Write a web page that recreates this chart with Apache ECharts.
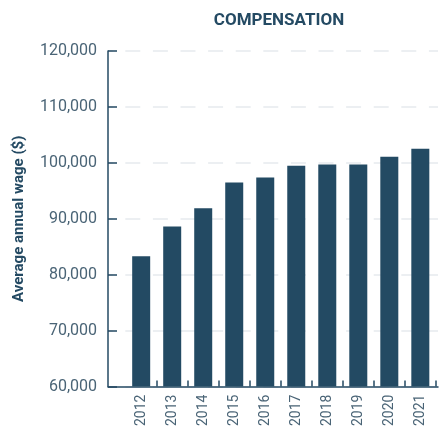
<!DOCTYPE html>
<html>
<head>
<meta charset="utf-8">
<script src="https://cdn.jsdelivr.net/npm/echarts@6/dist/echarts.min.js"></script>
<style>
  html, body { margin: 0; padding: 0; background: #ffffff; }
  #chart { width: 441px; height: 429px; }
</style>
</head>
<body>
<div id="chart"></div>
<script>
// Average annual wage by year
const years = ['2012', '2013', '2014', '2015', '2016', '2017', '2018', '2019', '2020', '2021'];
const wages = [83300, 88600, 91900, 96500, 97400, 99500, 99700, 99700, 101100, 102500];
const yTicks = [60000, 70000, 80000, 90000, 100000, 110000, 120000];

const ink = '#244a63';
const labelColor = '#4a6476';

// Bars sit on a numeric axis so the band positions and boundary ticks can be placed freely
const barData = wages.map((v, i) => [i, v]);
const bandEdges = years.map((_, i) => i + 0.5);
const bandCenters = years.map((_, i) => i);

const chart = echarts.init(document.getElementById('chart'), null, { renderer: 'canvas' });
chart.setOption({
  animation: false,
  backgroundColor: '#ffffff',
  title: {
    text: 'COMPENSATION',
    left: 274,
    top: 7,
    textAlign: 'center',
    textStyle: { fontFamily: 'Roboto', fontWeight: 'bold', fontSize: 17, color: ink }
  },
  grid: { left: 108, right: 3, top: 51, bottom: 40, containLabel: false },
  xAxis: {
    type: 'value',
    min: -1.07,
    max: 9.57,
    splitLine: { show: false },
    axisLine: { show: true, onZero: false, lineStyle: { color: ink, width: 1.5 } },
    axisTick: {
      show: true, inside: true, length: 6, customValues: bandEdges,
      lineStyle: { color: ink, width: 1.5 }
    },
    axisLabel: {
      customValues: bandCenters,
      rotate: 90,
      margin: 8,
      fontFamily: 'Roboto',
      fontSize: 14,
      color: labelColor,
      formatter: v => years[Math.round(v)]
    }
  },
  yAxis: {
    type: 'value',
    min: yTicks[0],
    max: yTicks[yTicks.length - 1],
    interval: 10000,
    name: 'Average annual wage ($)',
    nameLocation: 'middle',
    nameGap: 81,
    nameTextStyle: { fontFamily: 'Roboto', fontWeight: 'bold', fontSize: 15, color: ink },
    axisLine: { show: true, onZero: false, lineStyle: { color: ink, width: 1.5 } },
    axisTick: { show: true, inside: true, length: 9, lineStyle: { color: ink, width: 1.5 } },
    axisLabel: {
      margin: 11,
      fontFamily: 'Roboto',
      fontSize: 16,
      color: labelColor,
      formatter: v => v.toLocaleString('en-US')
    },
    splitLine: {
      show: true,
      lineStyle: { color: '#e6eaee', width: 1.5, type: [15, 12.6], dashOffset: 10.3 }
    }
  },
  series: [{
    type: 'bar',
    data: barData,
    barWidth: 18,
    itemStyle: { color: '#234a63' }
  }]
});
</script>
</body>
</html>
